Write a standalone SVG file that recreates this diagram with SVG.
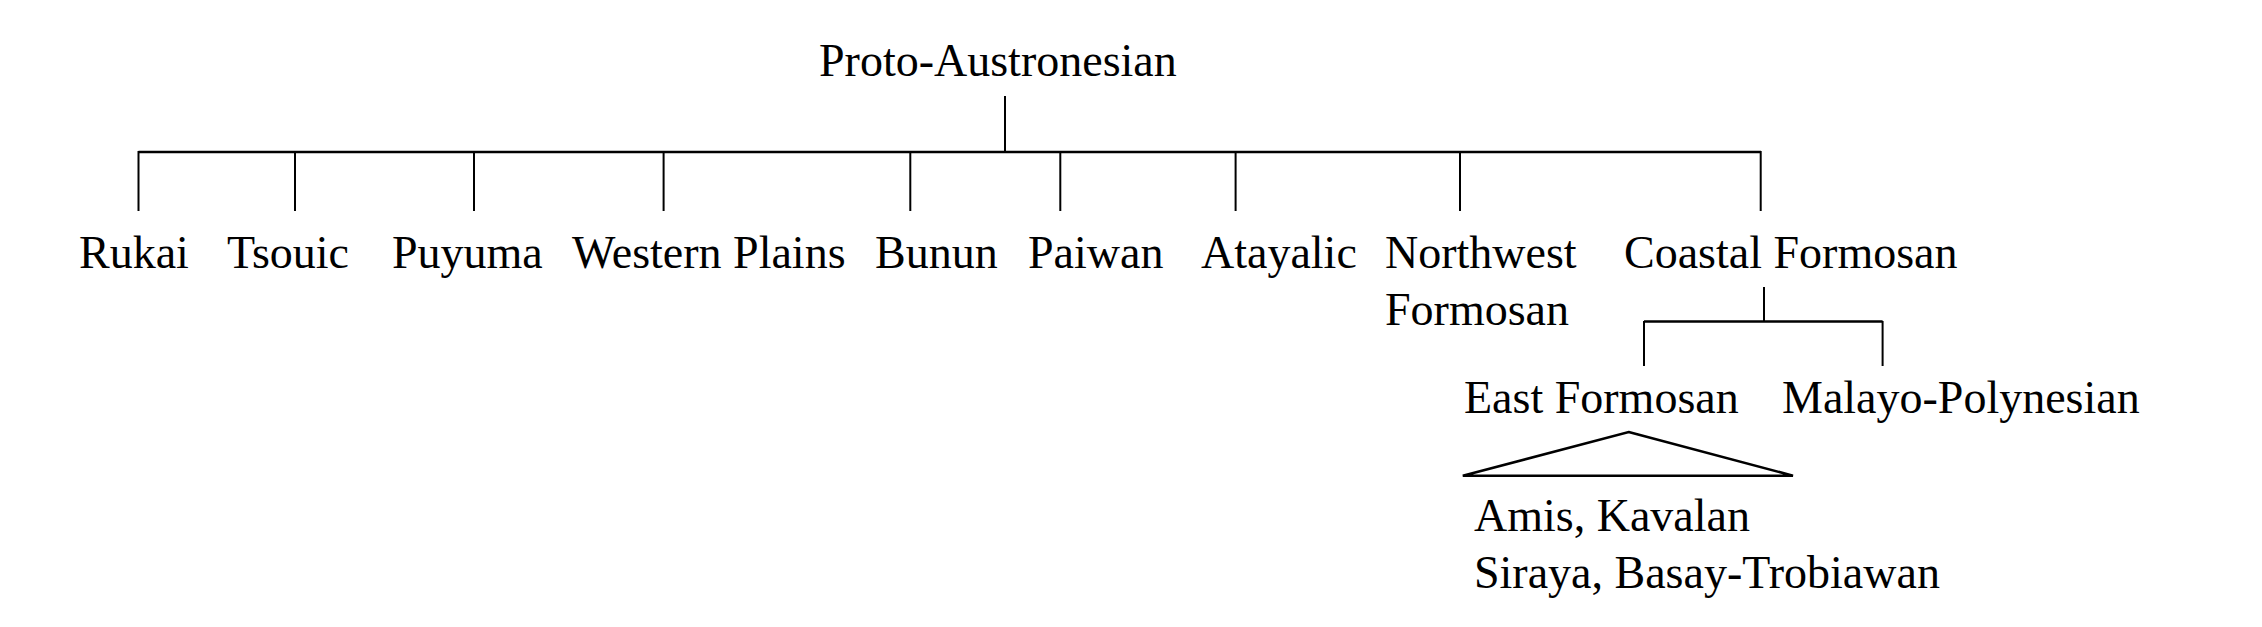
<svg xmlns="http://www.w3.org/2000/svg" width="2262" height="627" viewBox="0 0 2262 627">
<style>
text{font-family:"Liberation Serif","Times New Roman",serif;font-size:46px;fill:#000}
.ln{stroke:#000;stroke-width:2;fill:none}
.hz{stroke:#000;stroke-width:2.6;fill:none}
</style>
<rect width="2262" height="627" fill="#fff"/>
<g id="connectors">
<line class="ln" x1="1005" y1="96" x2="1005" y2="152"/>
<line class="hz" x1="138.5" y1="152" x2="1761" y2="152"/>
<line class="ln" x1="138.5" y1="151" x2="138.5" y2="211"/>
<line class="ln" x1="295" y1="151" x2="295" y2="211"/>
<line class="ln" x1="474" y1="151" x2="474" y2="211"/>
<line class="ln" x1="663.6" y1="151" x2="663.6" y2="211"/>
<line class="ln" x1="910.3" y1="151" x2="910.3" y2="211"/>
<line class="ln" x1="1060.3" y1="151" x2="1060.3" y2="211"/>
<line class="ln" x1="1235.6" y1="151" x2="1235.6" y2="211"/>
<line class="ln" x1="1460" y1="151" x2="1460" y2="211"/>
<line class="ln" x1="1760.7" y1="151" x2="1760.7" y2="211"/>
<line class="ln" x1="1764" y1="287" x2="1764" y2="321.5"/>
<line class="hz" x1="1644" y1="321.5" x2="1882.6" y2="321.5"/>
<line class="ln" x1="1644" y1="321" x2="1644" y2="366"/>
<line class="ln" x1="1882.6" y1="321" x2="1882.6" y2="366"/>
<polygon class="hz" points="1628.7,432 1793,475.7 1462.8,475.7"/>
</g>
<g id="proto"><text x="819" y="76">Proto-Austronesian</text></g>
<g id="rukai"><text x="79" y="268">Rukai</text></g>
<g id="tsouic"><text x="227" y="268">Tsouic</text></g>
<g id="puyuma"><text x="392" y="268">Puyuma</text></g>
<g id="western-plains"><text x="572" y="268">Western Plains</text></g>
<g id="bunun"><text x="875" y="268">Bunun</text></g>
<g id="paiwan"><text x="1028" y="268">Paiwan</text></g>
<g id="atayalic"><text x="1201" y="268">Atayalic</text></g>
<g id="northwest-formosan"><text x="1385" y="268">Northwest</text><text x="1385" y="325">Formosan</text></g>
<g id="coastal-formosan"><text x="1624" y="268">Coastal Formosan</text></g>
<g id="east-formosan"><text x="1464" y="413">East Formosan</text></g>
<g id="malayo-polynesian"><text x="1782" y="413">Malayo-Polynesian</text></g>
<g id="east-formosan-members"><text x="1474" y="531">Amis, Kavalan</text><text x="1474" y="588">Siraya, Basay-Trobiawan</text></g>
</svg>
